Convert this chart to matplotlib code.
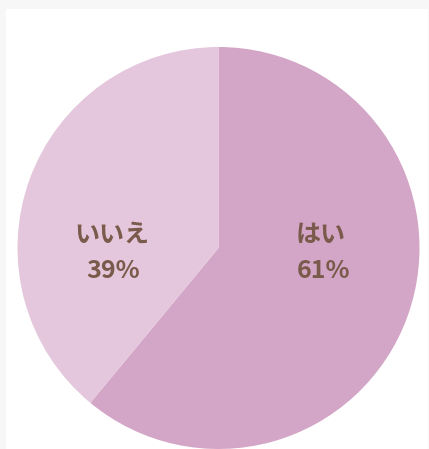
import matplotlib
matplotlib.use("Agg")
import matplotlib.pyplot as plt

labels = ["はい", "いいえ"]
values = [61, 39]
colors = ["#d3a6c7", "#e4c7dc"]

W, H = 429, 449
fig = plt.figure(figsize=(W / 100, H / 100), dpi=100)
fig.patch.set_facecolor("#f7f7f7")

bg = fig.add_axes([6 / W, 0, (W - 7) / W, (H - 9) / H], zorder=-5)
bg.set_facecolor("white")
bg.set_xticks([]); bg.set_yticks([])
for s in bg.spines.values():
    s.set_visible(False)

cx, cy, r = 218.5, 248, 201
ax = fig.add_axes([(cx - r) / W, (H - cy - r) / H, 2 * r / W, 2 * r / H], zorder=1)

ax.pie(values, colors=colors, startangle=90, counterclock=False, radius=1,
       wedgeprops=dict(edgecolor="none"))
ax.set_xlim(-1, 1)
ax.set_ylim(-1, 1)
ax.set_aspect("equal")
ax.axis("off")

def to_data(px, py):
    return (px - cx) / r, (cy - py) / r

txt = dict(ha="center", va="center", color="#7a5a4a", fontsize=18,
           fontweight="bold", family=["Noto Sans CJK JP", "DejaVu Sans"])
label_pos = [(321, 235, 323, 271), (112, 235, 113, 271)]
for lab, val, (x1, y1, x2, y2) in zip(labels, values, label_pos):
    ax.text(*to_data(x1, y1), lab, **txt)
    ax.text(*to_data(x2, y2), f"{val}%", **txt)

fig.savefig("out.png", dpi=100, facecolor=fig.get_facecolor())
